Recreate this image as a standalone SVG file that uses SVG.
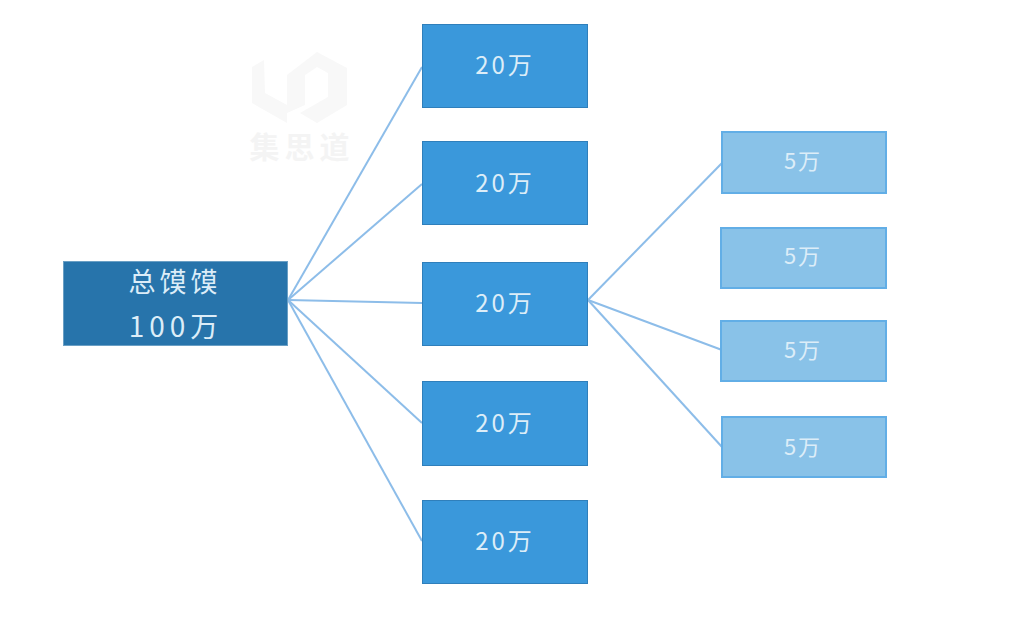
<svg xmlns="http://www.w3.org/2000/svg" width="1020" height="640" viewBox="0 0 1020 640">
<style>
text{font-family:"Noto Sans CJK SC","Liberation Sans",sans-serif;text-anchor:middle;fill:#dcedf8;font-weight:400}
.mid rect{fill:#3a98db;stroke:#2f7fbb;stroke-width:1}
.leaf rect{fill:#89c2e8;stroke:#62aee6;stroke-width:2}
.root rect{fill:#2774ab;stroke:#6a9fc4;stroke-width:1}
.mid text{font-size:24px;letter-spacing:3px}
.leaf text{font-size:22px;letter-spacing:2px}
.root text{font-size:27px;letter-spacing:4px}
.root .num{font-size:28px;letter-spacing:5px}
#connectors line{stroke:#8dbde9;stroke-width:2}
.wm{fill:#f8f8f8}
.wmt{font-size:30px;fill:#f4f4f4;font-weight:700;letter-spacing:5px}
</style>
<rect width="1020" height="640" fill="#ffffff"/>
<g id="watermark">
<path class="wm" d="M252 67L264 60L265 93L287 105V123L252 103Z"/>
<path class="wm" d="M317 52L347 68V105L317 123L300 113L328 97V73L317 67L305 75V105L287 113V75Z"/>
<text class="wmt" x="302" y="158">集思道</text>
</g>
<g id="connectors">
<line x1="288" y1="300" x2="422" y2="67"/>
<line x1="288" y1="300" x2="422" y2="184"/>
<line x1="288" y1="300" x2="422" y2="303"/>
<line x1="288" y1="300" x2="422" y2="423"/>
<line x1="288" y1="300" x2="422" y2="541"/>
<line x1="588" y1="300" x2="722" y2="163"/>
<line x1="588" y1="300" x2="722" y2="350"/>
<line x1="588" y1="300" x2="722" y2="447"/>
</g>
<g id="root" class="root">
<rect x="63.500" y="261.500" width="224" height="84"/>
<text x="175" y="292">总馍馍</text>
<text class="num" x="176" y="337">100万</text>
</g>
<g id="m1" class="mid"><rect x="422.500" y="24.500" width="165" height="83"/><text x="505" y="74">20万</text></g>
<g id="m2" class="mid"><rect x="422.500" y="141.500" width="165" height="83"/><text x="505" y="192">20万</text></g>
<g id="m3" class="mid"><rect x="422.500" y="262.500" width="165" height="83"/><text x="505" y="312">20万</text></g>
<g id="m4" class="mid"><rect x="422.500" y="381.500" width="165" height="84"/><text x="505" y="432">20万</text></g>
<g id="m5" class="mid"><rect x="422.500" y="500.500" width="165" height="83"/><text x="505" y="550">20万</text></g>
<g id="l1" class="leaf"><rect x="722" y="132" width="164" height="61"/><text x="803" y="169">5万</text></g>
<g id="l2" class="leaf"><rect x="721" y="228" width="165" height="60"/><text x="803" y="264">5万</text></g>
<g id="l3" class="leaf"><rect x="721" y="321" width="165" height="60"/><text x="803" y="358">5万</text></g>
<g id="l4" class="leaf"><rect x="722" y="417" width="164" height="60"/><text x="803" y="455">5万</text></g>
</svg>
